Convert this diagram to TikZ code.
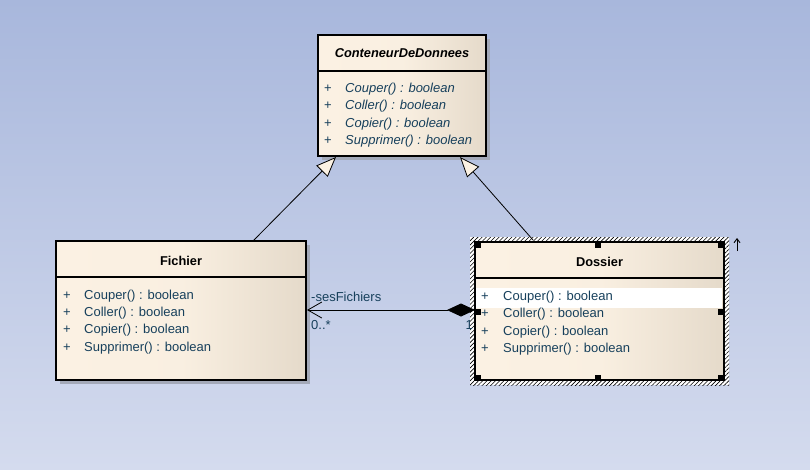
\documentclass[tikz,border=0pt]{standalone}
\usepackage{fontspec}
\setmainfont{Liberation Sans}
\usetikzlibrary{arrows.meta,patterns.meta,shadings}
\definecolor{bgtop}{HTML}{A8B7DC}
\definecolor{bgbot}{HTML}{D4DBEE}
\definecolor{creamL}{HTML}{FBF1E3}
\definecolor{creamR}{HTML}{E5DACA}
\definecolor{txt}{HTML}{17405C}
\definecolor{shadowc}{HTML}{A3A9B8}
\tikzset{
  classbox/.style={draw=black, line width=1.2pt, rectangle, inner sep=0pt,
    left color=creamL, right color=creamR, middle color=creamL!92!creamR},
  title/.style={font=\bfseries\fontsize{12.8}{15}\selectfont, inner sep=0pt, text=black},
  meth/.style={font=\fontsize{13}{15}\selectfont, inner sep=0pt, anchor=west, text=txt},
  imeth/.style={meth, font=\itshape\fontsize{13}{15}\selectfont},
  handle/.style={fill=black, draw=none, minimum size=6pt, inner sep=0pt, rectangle},
  conn/.style={draw=black, line width=0.8pt},
  gentip/.style={-{Triangle[length=20pt,width=16pt,fill=creamL,line width=0.8pt]}},
  lbl/.style={font=\fontsize{13}{15}\selectfont, inner sep=0pt, text=txt},
}
\begin{document}
\begin{tikzpicture}[x=1pt,y=-1pt]
\useasboundingbox (0,0) rectangle (810,469);
\shade[top color=bgtop, bottom color=bgbot] (0,0) rectangle (810,469);

% ---------- ConteneurDeDonnees ----------
\fill[shadowc] (322,39) rectangle (490,160);
\node[classbox, minimum width=168pt, minimum height=121pt] (cont) at (402,95.5) {};
\draw[line width=1.2pt] (318,71) -- (486,71);
\node[title, font=\bfseries\itshape\fontsize{12.8}{15}\selectfont] (contT) at (402,53) {ConteneurDeDonnees};
\foreach \y/\t [count=\i] in {89/Couper() : boolean,106/Coller() : boolean,124/Copier() : boolean,141/Supprimer() : boolean}{
  \node[meth] (contp\i) at (324,\y) {+};
  \node[imeth] (contm\i) at (345,\y) {\t};
}

% ---------- Fichier ----------
\fill[shadowc] (60,245) rectangle (310,384);
\node[classbox, minimum width=250pt, minimum height=139pt] (fich) at (181,310.5) {};
\draw[line width=1.2pt] (56,277) -- (306,277);
\node[title] (fichT) at (181,261) {Fichier};
\foreach \y/\t [count=\i] in {296/Couper() : boolean,313/Coller() : boolean,330/Copier() : boolean,348/Supprimer() : boolean}{
  \node[meth] (fichp\i) at (63,\y) {+};
  \node[meth] (fichm\i) at (84,\y) {\t};
}

% ---------- Dossier ----------
\fill[white] (470,237) rectangle (729,385);
\fill[pattern={Lines[angle=45,distance=3pt,line width=0.6pt]}, pattern color=black] (470,237) rectangle (729,385);
\node[classbox, minimum width=249pt, minimum height=138pt] (doss) at (599.5,311) {};
\fill[white] (476,288) rectangle (722,308);
\draw[line width=1.2pt] (475,278) -- (724,278);
\node[title] (dossT) at (599.5,262) {Dossier};
\foreach \y/\t [count=\i] in {297/Couper() : boolean,314/Coller() : boolean,332/Copier() : boolean,349/Supprimer() : boolean}{
  \node[meth] (dossp\i) at (481,\y) {+};
  \node[meth] (dossm\i) at (503,\y) {\t};
}
\foreach \x/\y [count=\i] in {478/245,598/245,721/245,721/312,478/312,478/378,598/378,721/378}{
  \node[handle] (h\i) at (\x,\y) {};
}
\coordinate (upA) at (737,251);
\coordinate (upB) at (737,238);
\draw[line width=0.9pt, -{Straight Barb[length=4pt,width=6pt]}] (upA) -- (upB);

% ---------- Generalisations ----------
\coordinate (g1s) at (253,241);
\coordinate (g1e) at (336,157);
\coordinate (g2s) at (533,240);
\coordinate (g2e) at (460,157);
\draw[conn, gentip] (g1s) -- (g1e);
\draw[conn, gentip] (g2s) -- (g2e);

% ---------- Composition ----------
\coordinate (a1) at (307,310);
\coordinate (a2) at (475,310);
\draw[conn, {Straight Barb[length=14pt,width=16pt,line width=0.8pt]}-{Diamond[length=28pt,width=13pt,fill=black]}] (a1) -- (a2);
\node[lbl, anchor=west] (role) at (311,297) {-sesFichiers};
\node[lbl, anchor=west] (mult1) at (311,325) {0..*};
\node[lbl, anchor=east] (mult2) at (473,325) {1};
\end{tikzpicture}
\end{document}
